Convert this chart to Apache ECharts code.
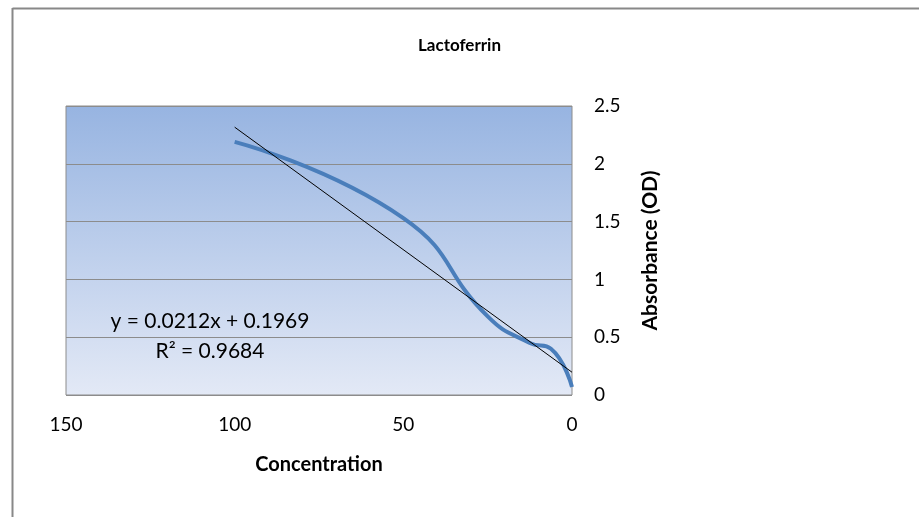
<!DOCTYPE html>
<html>
<head>
<meta charset="utf-8">
<script src="https://cdn.jsdelivr.net/npm/echarts@6/dist/echarts.min.js"></script>
<style>
  html, body { margin: 0; padding: 0; background: #fff; }
  #chart { width: 919px; height: 517px; }
</style>
</head>
<body>
<div id="chart"></div>
<script>
// concentration and measured absorbance
var concentration = [100, 50, 25, 12.5, 6.25, 0]
var absorbance = [2.19, 1.53, 0.68, 0.45, 0.40, 0.07]
// linear trendline y = 0.0212x + 0.1969
var trendSlope = 0.0212
var trendIntercept = 0.1969
var trendX = [0, 100]
var yTicks = [0, 0.5, 1, 1.5, 2, 2.5]

var font = 'Lato, "Open Sans", sans-serif'

var chart = echarts.init(document.getElementById('chart'))

chart.setOption({
  animation: false,
  title: {
    text: 'Lactoferrin',
    left: 'center',
    top: 32,
    textStyle: { fontFamily: font, fontWeight: 'bold', fontSize: 17, color: '#000' }
  },
  grid: {
    left: 66,
    right: 347,
    top: 106,
    bottom: 122,
    show: true,
    borderColor: '#8c8c8c',
    borderWidth: 1,
    backgroundColor: new echarts.graphic.LinearGradient(0, 0, 0, 1, [
      { offset: 0, color: '#97b4e1' },
      { offset: 1, color: '#e3e9f6' }
    ])
  },
  xAxis: {
    type: 'value',
    inverse: true,
    min: 0,
    max: 150,
    interval: 50,
    name: 'Concentration',
    nameLocation: 'middle',
    nameGap: 60,
    nameTextStyle: { fontFamily: font, fontWeight: 'bold', fontSize: 20, color: '#000' },
    axisLine: { show: false },
    axisTick: { show: false },
    splitLine: { show: false },
    axisLabel: { fontFamily: font, fontSize: 19, color: '#000', margin: 20 }
  },
  yAxis: {
    type: 'value',
    position: 'right',
    min: 0,
    max: 2.5,
    interval: 0.5,
    name: 'Absorbance (OD)',
    nameLocation: 'middle',
    nameGap: 68,
    nameRotate: 90,
    nameTextStyle: { fontFamily: font, fontWeight: 'bold', fontSize: 21, color: '#000' },
    axisLine: { show: false },
    axisTick: { show: false },
    splitLine: { show: true, lineStyle: { color: '#8c8c8c', width: 1 } },
    axisLabel: {
      fontFamily: font, fontSize: 19, color: '#000', margin: 22,
      formatter: function (v) { return yTicks.indexOf(v) >= 0 ? String(v) : '' }
    }
  },
  series: [
    {
      name: 'Absorbance',
      type: 'line',
      smooth: 0.5,
      showSymbol: false,
      lineStyle: { color: '#4a7ebb', width: 4 },
      data: concentration.map(function (c, i) { return [c, absorbance[i]] })
    },
    {
      name: 'Trendline',
      type: 'line',
      showSymbol: false,
      lineStyle: { color: '#000', width: 1 },
      data: trendX.map(function (x) { return [x, trendSlope * x + trendIntercept] })
    }
  ],
  graphic: [
    { type: 'line', shape: { x1: 12.5, y1: 8.5, x2: 919, y2: 8.5 }, style: { stroke: '#888', lineWidth: 2 } },
    { type: 'line', shape: { x1: 12.5, y1: 8, x2: 12.5, y2: 517 }, style: { stroke: '#888', lineWidth: 2 } },
    {
      type: 'text', x: 210, y: 321,
      style: { text: 'y = 0.0212x + 0.1969', fontFamily: font, fontSize: 21, fill: '#000', align: 'center', verticalAlign: 'middle' }
    },
    {
      type: 'text', x: 210, y: 351,
      style: { text: 'R² = 0.9684', fontFamily: font, fontSize: 21, fill: '#000', align: 'center', verticalAlign: 'middle' }
    }
  ]
})
</script>
</body>
</html>
